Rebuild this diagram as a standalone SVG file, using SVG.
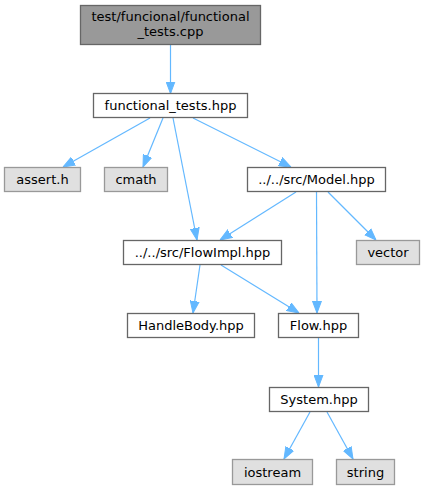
<svg xmlns="http://www.w3.org/2000/svg" width="425" height="491" viewBox="0 0 425 491">
<style>
  .node rect { fill: #ffffff; stroke: #666666; stroke-width: 1.3; }
  .ext rect { fill: #e0e0e0; stroke: #999999; stroke-width: 1.3; }
  .root rect { fill: #999999; stroke: #666666; stroke-width: 1.3; }
  text { font-family: "DejaVu Sans", sans-serif; font-size: 13px; fill: #000000; text-anchor: middle; }
  .edge { stroke: #63b8ff; stroke-width: 1.2; fill: none; marker-end: url(#arrow); }
</style>
<defs>
  <marker id="arrow" markerUnits="userSpaceOnUse" markerWidth="12" markerHeight="10" viewBox="0 0 12 10" refX="12" refY="5" orient="auto">
    <path d="M0,0.5 L12,5 L0,9.5 Z" fill="#63b8ff" stroke="#63b8ff" stroke-width="1"/>
  </marker>
</defs>
<rect x="0" y="0" width="425" height="491" fill="#ffffff"/>
<g id="edges">
  <line class="edge" x1="170.5" y1="45" x2="170.5" y2="93.5"/>
  <line class="edge" x1="150" y1="118" x2="63" y2="167"/>
  <line class="edge" x1="163" y1="118" x2="143" y2="167"/>
  <line class="edge" x1="173" y1="118" x2="197" y2="240"/>
  <line class="edge" x1="193" y1="118" x2="291" y2="167"/>
  <line class="edge" x1="296" y1="192" x2="220" y2="240"/>
  <line class="edge" x1="316.5" y1="192" x2="317" y2="313"/>
  <line class="edge" x1="328" y1="192" x2="376" y2="240"/>
  <line class="edge" x1="200" y1="265" x2="193" y2="313"/>
  <line class="edge" x1="221" y1="265" x2="299" y2="313"/>
  <line class="edge" x1="318.5" y1="338" x2="318.5" y2="387"/>
  <line class="edge" x1="310" y1="412" x2="284" y2="459"/>
  <line class="edge" x1="327" y1="412" x2="353" y2="459"/>
</g>
<g id="node1" class="root">
  <rect x="80.5" y="5.5" width="180" height="39"/>
  <text x="170.5" y="21">test/funcional/functional</text>
  <text x="170.5" y="36">_tests.cpp</text>
</g>
<g id="node2" class="node">
  <rect x="93.5" y="93.5" width="154" height="24"/>
  <text x="170.5" y="110">functional_tests.hpp</text>
</g>
<g id="node3" class="ext">
  <rect x="4.5" y="167.5" width="76" height="24"/>
  <text x="42.5" y="184">assert.h</text>
</g>
<g id="node4" class="ext">
  <rect x="104.5" y="167.5" width="63" height="24"/>
  <text x="136" y="184">cmath</text>
</g>
<g id="node5" class="node">
  <rect x="247.5" y="167.5" width="138" height="24"/>
  <text x="316.5" y="184">../../src/Model.hpp</text>
</g>
<g id="node6" class="node">
  <rect x="123.5" y="240.5" width="158" height="24"/>
  <text x="202.5" y="257">../../src/FlowImpl.hpp</text>
</g>
<g id="node7" class="ext">
  <rect x="356.5" y="240.5" width="63" height="24"/>
  <text x="388" y="257">vector</text>
</g>
<g id="node8" class="node">
  <rect x="127.5" y="313.5" width="127" height="24"/>
  <text x="191" y="330">HandleBody.hpp</text>
</g>
<g id="node9" class="node">
  <rect x="278.5" y="313.5" width="80" height="24"/>
  <text x="318.5" y="330">Flow.hpp</text>
</g>
<g id="node10" class="node">
  <rect x="269.5" y="387.5" width="99" height="24"/>
  <text x="319" y="404">System.hpp</text>
</g>
<g id="node11" class="ext">
  <rect x="232.5" y="459.5" width="80" height="25"/>
  <text x="272.5" y="476.5">iostream</text>
</g>
<g id="node12" class="ext">
  <rect x="336.5" y="459.5" width="58" height="25"/>
  <text x="365.5" y="476.5">string</text>
</g>
</svg>
